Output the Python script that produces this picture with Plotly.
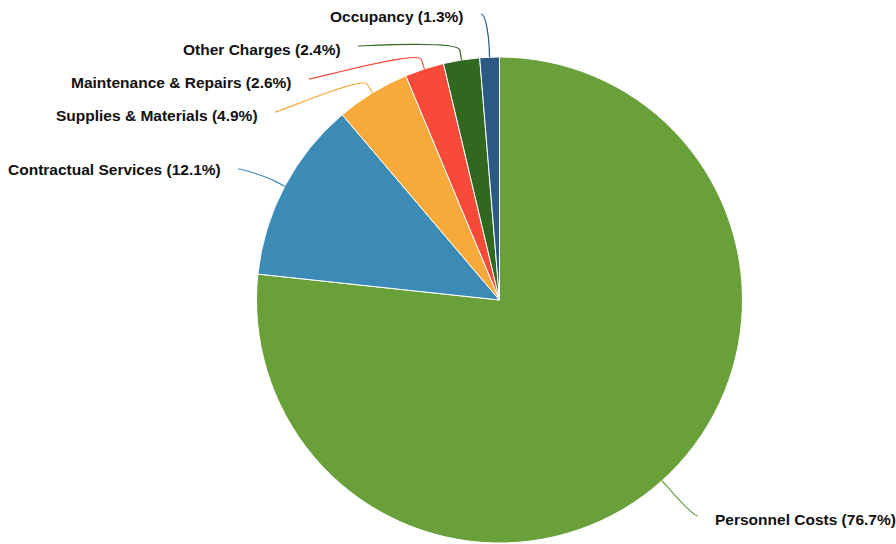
import math
import plotly.graph_objects as go

# ---- data ----
categories = ["Personnel Costs", "Contractual Services", "Supplies & Materials",
              "Maintenance & Repairs", "Other Charges", "Occupancy"]
shares = [76.7, 12.1, 4.9, 2.6, 2.4, 1.3]

# ---- style / layout ----
colors = ["#6aa03a", "#3c8ab6", "#f7aa3a", "#f84a38", "#306820", "#2a5a84"]
W, H = 896, 544
CX, CY, R = 499.5, 300.0, 243.0
# label anchor points (connector start) and text centre heights, in pixels
label_anchor_x = [698, 238, 275, 309, 358, 481]
label_anchor_y = [516, 169, 112, 79, 46, 14]
label_text_y = [519.5, 169.5, 115.5, 82.5, 49.5, 16.5]
TEXT_GAP = 15
FONT = "Liberation Sans, Arial, sans-serif"
FSIZE = 15.5


def px(x):
    return x / W


def py(y):
    return 1 - y / H


fig = go.Figure()
fig.add_trace(go.Pie(
    labels=categories,
    values=shares,
    sort=False,
    direction="clockwise",
    rotation=0,
    textinfo="none",
    hoverinfo="label+percent",
    marker=dict(colors=colors, line=dict(color="#ffffff", width=1)),
    showlegend=False,
    domain=dict(x=[(CX - R) / W, (CX + R) / W], y=[1 - (CY + R) / H, 1 - (CY - R) / H]),
))

shapes = []
annotations = []
total = sum(shares)
cum = 0.0
for i, (cat, v) in enumerate(zip(categories, shares)):
    mid = (cum + v / 2) / total * 2 * math.pi
    cum += v
    sx, sy = math.sin(mid), -math.cos(mid)
    tx, ty = CX + R * sx, CY + R * sy
    bx, by = CX + (R + 10) * sx, CY + (R + 10) * sy
    lx, ly = label_anchor_x[i], label_anchor_y[i]
    right_side = lx > CX
    c1x = lx + (-5 if right_side else 5)
    c2x, c2y = 2 * bx - tx, 2 * by - ty
    path = (f"M {px(lx)},{py(ly)} C {px(c1x)},{py(ly)} {px(c2x)},{py(c2y)} {px(bx)},{py(by)} "
            f"L {px(tx)},{py(ty)}")
    shapes.append(dict(type="path", path=path, xref="paper", yref="paper",
                       line=dict(color=colors[i], width=1.2)))
    pct = v / total * 100
    annotations.append(dict(
        text=f"<b>{cat} ({pct:.1f}%)</b>",
        x=px(lx + (TEXT_GAP if right_side else -TEXT_GAP)),
        y=py(label_text_y[i]),
        xref="paper", yref="paper",
        xanchor="left" if right_side else "right",
        yanchor="middle",
        showarrow=False,
        font=dict(family=FONT, size=FSIZE, color="#111111"),
    ))

fig.update_layout(
    width=W, height=H,
    margin=dict(l=0, r=0, t=0, b=0),
    paper_bgcolor="#ffffff",
    plot_bgcolor="#ffffff",
    shapes=shapes,
    annotations=annotations,
)

fig.write_html("out.html", config={"displayModeBar": False},
               post_script="document.body.style.margin='0';")
